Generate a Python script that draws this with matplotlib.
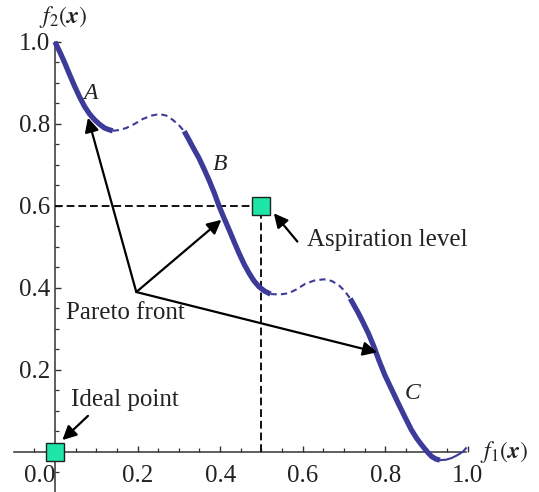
import matplotlib
matplotlib.use("Agg")
import matplotlib.pyplot as plt
from matplotlib.ticker import MultipleLocator, FixedLocator

plt.rcParams['font.family'] = ['Liberation Serif', 'DejaVu Serif']
plt.rcParams['mathtext.fontset'] = 'stix'

# ---- data ----
seg1_x = [0.0, 0.012, 0.024, 0.036, 0.048, 0.060, 0.072, 0.084, 0.096, 0.108, 0.120, 0.130, 0.140]
seg1_y = [1.0, 0.975, 0.948, 0.919, 0.891, 0.865, 0.842, 0.824, 0.810, 0.799, 0.790, 0.786, 0.783]
seg2_x = [0.140, 0.156, 0.173, 0.193, 0.213, 0.233, 0.253, 0.270, 0.285, 0.300, 0.313]
seg2_y = [0.783, 0.785, 0.790, 0.800, 0.812, 0.820, 0.824, 0.820, 0.810, 0.797, 0.782]
seg3_x = [0.313, 0.323, 0.333, 0.349, 0.361, 0.373, 0.386, 0.398, 0.410, 0.422, 0.434, 0.446,
          0.458, 0.470, 0.482, 0.494, 0.508, 0.522]
seg3_y = [0.782, 0.764, 0.745, 0.716, 0.690, 0.663, 0.631, 0.598, 0.569, 0.541, 0.512, 0.484,
          0.458, 0.436, 0.417, 0.403, 0.392, 0.385]
seg4_x = [0.522, 0.544, 0.566, 0.586, 0.606, 0.628, 0.651, 0.670, 0.687, 0.702, 0.715]
seg4_y = [0.385, 0.384, 0.387, 0.397, 0.410, 0.418, 0.421, 0.417, 0.407, 0.392, 0.374]
seg5_x = [0.715, 0.725, 0.735, 0.747, 0.759, 0.771, 0.785, 0.799, 0.815, 0.831, 0.847, 0.863,
          0.876, 0.888, 0.900, 0.912, 0.922, 0.932]
seg5_y = [0.374, 0.356, 0.338, 0.314, 0.289, 0.260, 0.222, 0.187, 0.153, 0.119, 0.086, 0.054,
          0.033, 0.017, 0.002, -0.011, -0.017, -0.020]
seg6_x = [0.932, 0.946, 0.960, 0.974, 0.988, 0.995]
seg6_y = [-0.020, -0.019, -0.015, -0.008, 0.001, 0.009]

ideal_point = (0.0, 0.0)
aspiration = (0.5, 0.6)
origin_pt = (0.197, 0.39)
targets = [(0.080, 0.815), (0.403, 0.566), (0.780, 0.243)]

xticks = [0.2, 0.4, 0.6, 0.8, 1.0]
xtick_labels = ['0.2', '0.4', '0.6', '0.8', '1.0']
yticks = [0.2, 0.4, 0.6, 0.8, 1.0]
ytick_labels = ['0.2', '0.4', '0.6', '0.8', '1.0']

# ---- figure ----
fig = plt.figure(figsize=(5.39, 4.92), dpi=100)
ax = fig.add_axes([0, 0, 1, 1])
ax.set_xlim(-0.133, 1.172)
ax.set_ylim(-0.0976, 1.102)

curve_c = '#3d3b99'
thick = 3.8
thin = 1.5
for xs, ys in [(seg1_x, seg1_y), (seg3_x, seg3_y), (seg5_x, seg5_y)]:
    ax.plot(xs, ys, color=curve_c, lw=thick, solid_capstyle='butt', solid_joinstyle='round', zorder=3)
for xs, ys in [(seg2_x, seg2_y), (seg4_x, seg4_y)]:
    ax.plot(xs, ys, color=curve_c, lw=thin, linestyle=(0, (3, 2)), zorder=3)
ax.plot(seg6_x, seg6_y, color=curve_c, lw=thin, zorder=3)

# dashed guides to the aspiration level
ax.plot([0, aspiration[0]], [aspiration[1], aspiration[1]], color='#111111', lw=1.4,
        linestyle=(0, (4, 2)), zorder=2)
ax.plot([aspiration[0], aspiration[0]], [0, aspiration[1]], color='#111111', lw=1.4,
        linestyle=(0, (4, 2)), zorder=2)

# arrows
aprops = dict(arrowstyle='-|>,head_length=0.6,head_width=0.3', mutation_scale=14,
              lw=1.6, color='black', shrinkA=0, shrinkB=0)
for t in targets:
    ax.annotate('', xy=t, xytext=origin_pt, arrowprops=aprops, zorder=4)
ax.annotate('', xy=(0.530, 0.582), xytext=(0.587, 0.513), arrowprops=aprops, zorder=4)
ax.annotate('', xy=(0.018, 0.029), xytext=(0.080, 0.088), arrowprops=aprops, zorder=4)

# squares
sq_c = '#1ee6a8'
ax.plot([ideal_point[0]], [ideal_point[1]], marker='s', markersize=12.5, color=sq_c,
        markeredgecolor='#222222', markeredgewidth=1.0, zorder=6, clip_on=False)
ax.plot([aspiration[0]], [aspiration[1]], marker='s', markersize=12.5, color=sq_c,
        markeredgecolor='#222222', markeredgewidth=1.0, zorder=6)

# texts
tc = '#222222'
fs = 18
ax.text(0.028, 0.34, 'Pareto front', fontsize=fs, color=tc, ha='left', va='center')
ax.text(0.610, 0.517, 'Aspiration level', fontsize=fs, color=tc, ha='left', va='center')
ax.text(0.038, 0.127, 'Ideal point', fontsize=fs, color=tc, ha='left', va='center')
ax.text(0.085, 0.875, 'A', fontsize=17, color=tc, style='italic', ha='center', va='center')
ax.text(0.400, 0.700, 'B', fontsize=17, color=tc, style='italic', ha='center', va='center')
ax.text(0.867, 0.143, 'C', fontsize=17, color=tc, style='italic', ha='center', va='center')
ax.text(0.02, 1.06, r'$f_2(\boldsymbol{x})$', fontsize=17, color=tc, ha='center', va='center')
ax.text(1.03, 0.0, r'$f_1(\boldsymbol{x})$', fontsize=17, color=tc, ha='left', va='center')
ax.text(-0.037, -0.032, '0.0', fontsize=fs, color=tc, ha='center', va='top')

# axes through origin
for s in ['top', 'right']:
    ax.spines[s].set_visible(False)
ax.spines['left'].set_position(('data', 0))
ax.spines['bottom'].set_position(('data', 0))
ax.spines['bottom'].set_bounds(-0.1, 0.995)
ax.spines['left'].set_bounds(-0.1, 1.0)
for s in ['left', 'bottom']:
    ax.spines[s].set_color('#333333')
    ax.spines[s].set_linewidth(1.1)
    ax.spines[s].set_zorder(1)

ax.xaxis.set_major_locator(FixedLocator(xticks))
ax.set_xticklabels(xtick_labels)
ax.yaxis.set_major_locator(FixedLocator(yticks))
ax.set_yticklabels(ytick_labels)
ax.xaxis.set_minor_locator(FixedLocator([-0.05 + 0.05 * i for i in range(21)]))
ax.yaxis.set_minor_locator(FixedLocator([-0.05 + 0.05 * i for i in range(21)]))
ax.tick_params(axis='x', which='both', direction='in', colors='#333333', labelcolor=tc,
               labelsize=fs, pad=9.5)
ax.tick_params(axis='y', which='both', direction='in', colors='#333333', labelcolor=tc,
               labelsize=fs, pad=3.6)
ax.tick_params(which='major', length=4, width=1.0)
ax.tick_params(which='minor', length=3, width=0.9)

fig.savefig('out.png', dpi=100)
